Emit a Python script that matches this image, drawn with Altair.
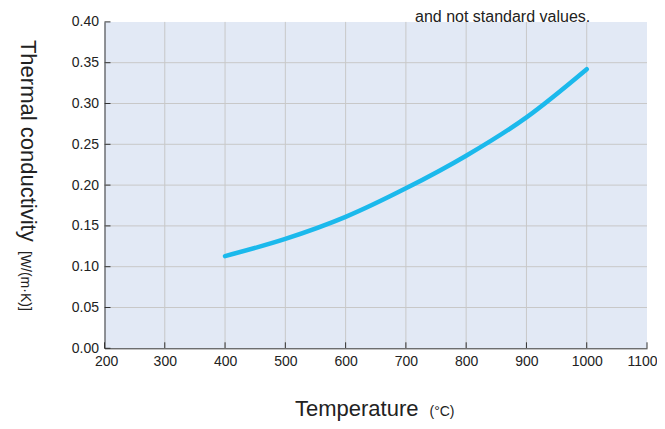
import altair as alt
import pandas as pd

# ---- data ----
temps = [400, 500, 600, 700, 800, 900, 1000]
conductivity = [0.113, 0.134, 0.161, 0.196, 0.236, 0.283, 0.342]

x_ticks = [200, 300, 400, 500, 600, 700, 800, 900, 1000, 1100]
y_ticks = [0.00, 0.05, 0.10, 0.15, 0.20, 0.25, 0.30, 0.35, 0.40]
x_grid = x_ticks[1:-1]
y_grid = y_ticks[1:-1]

y_title_main = "Thermal conductivity"
y_title_unit = "[W/(m·K)]"
x_title_main = "Temperature"
x_title_unit = "(°C)"
note_text = "and not standard values."

W = 542.5
H = 326.4
FONT = "Liberation Sans"
TXT = "#222222"

xs = alt.Scale(domain=[200, 1100], nice=False, zero=False)
ys = alt.Scale(domain=[0, 0.4], nice=False)

xa = alt.Axis(values=x_ticks, format="d", title=None, grid=False, ticks=False, tickSize=0,
              labelFontSize=14, labelFont=FONT, labelColor=TXT, labelPadding=6,
              domainColor="#333333", labelFlush=True, labelFlushOffset=10)
ya = alt.Axis(values=y_ticks, format=".2f", title=None, grid=False, ticks=False, tickSize=0,
              labelFontSize=14, labelFont=FONT, labelColor=TXT, labelPadding=6,
              domainColor="#333333")

curve_df = pd.DataFrame({"t": temps, "k": conductivity})

vgrid = alt.Chart(pd.DataFrame({"v": x_grid})).mark_rule(color="#C8C8C8", strokeWidth=1).encode(
    x=alt.X("v:Q", scale=xs, axis=xa))
hgrid = alt.Chart(pd.DataFrame({"v": y_grid})).mark_rule(color="#C8C8C8", strokeWidth=1).encode(
    y=alt.Y("v:Q", scale=ys, axis=ya))

xtick = alt.Chart(pd.DataFrame({"v": x_ticks})).mark_rule(color="#333333", strokeWidth=1).encode(
    x=alt.X("v:Q", scale=xs, axis=xa), y=alt.value(H), y2=alt.value(H - 6))
ytick = alt.Chart(pd.DataFrame({"v": y_ticks})).mark_rule(color="#333333", strokeWidth=1).encode(
    y=alt.Y("v:Q", scale=ys, axis=ya), x=alt.value(0), x2=alt.value(6))

line = alt.Chart(curve_df).mark_line(color="#1BB9EC", strokeWidth=4.5, strokeCap="round",
                                     interpolate="monotone").encode(
    x=alt.X("t:Q", scale=xs, axis=xa),
    y=alt.Y("k:Q", scale=ys, axis=ya))


def label(text, x, y, size, angle=0):
    return alt.Chart(pd.DataFrame({"s": [text]})).mark_text(
        font=FONT, fontSize=size, color=TXT, align="left", baseline="alphabetic", angle=angle
    ).encode(text="s:N", x=alt.value(x), y=alt.value(y))


ytitle1 = label(y_title_main, -83.5, 18, 22, angle=90)
ytitle2 = label(y_title_unit, -83.5, 229, 14, angle=90)
xtitle1 = label(x_title_main, 190.5, 394, 22)
xtitle2 = label(x_title_unit, 325, 394, 14)
note = label(note_text, 310.5, 0, 16)

chart = alt.layer(vgrid, hgrid, line, xtick, ytick, ytitle1, ytitle2, xtitle1, xtitle2, note).properties(
    width=W, height=H,
    autosize=alt.AutoSizeParams(type="none"),
    padding={"left": 96.5, "top": 13.9, "right": 10, "bottom": 72.7},
).configure_view(fill="#E2E9F5", stroke=None)

chart.save("out.html", embed_options={"renderer": "svg", "actions": False})
